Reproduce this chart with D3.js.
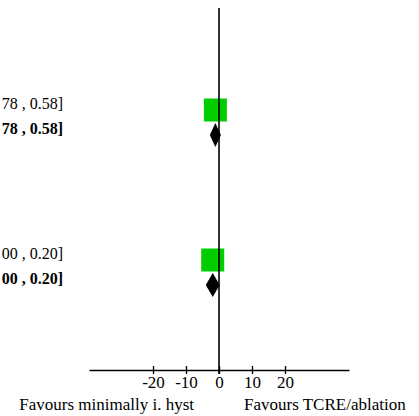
<!DOCTYPE html>
<html>
<head>
<meta charset="utf-8">
<script src="https://cdn.jsdelivr.net/npm/d3@7"></script>
<style>
  body { margin: 0; background: #fff; }
  text { font-family: "Liberation Serif", "Times New Roman", serif; }
</style>
</head>
<body>
<div id="forest"></div>
<script>
// data (only the visible right part of the CI column fits in the picture)
var ciText   = ["78 , 0.58]", "78 , 0.58]", "00 , 0.20]", "00 , 0.20]"];
var rowType  = ["study", "total", "study", "total"];
var rowIndex = [0, 1, 6, 7];
var est      = [-1.10, -1.10, -1.90, -1.90];
var lower    = [-2.78, -2.78, -4.00, -4.00];
var upper    = [0.58, 0.58, 0.20, 0.20];
var weight   = [100, 100, 100, 100];
var ticks    = [-20, -10, 0, 10, 20];
var leftLabel  = "Favours minimally i. hyst";
var rightLabel = "Favours TCRE/ablation";

function forest(){
	var width = 419, height = 416;
	var axisY = 370, lineTop = 8;

	var svg = d3.select("#forest")
		.append("svg")
		.attr("width", width)
		.attr("height", height);

	var rows = ciText.map(function(t, i){
		return {text: t, type: rowType[i], row: rowIndex[i], est: est[i], lo: lower[i], hi: upper[i], w: weight[i]};
	});

	// coordinates
	var x = d3.scaleLinear().domain([-39.4, 39.4]).range([89, 349]);
	var y = d3.scaleLinear().domain([0, 1]).range([110, 135]);
	var size = d3.scaleSqrt().domain([0, 100]).range([0, 23]);

	// x axis
	var axis = svg.append("g")
		.attr("transform", "translate(0," + axisY + ")")
		.call(d3.axisBottom(x).tickValues(ticks)
			.tickFormat(function(d){ return String(d); })
			.tickSizeOuter(0).tickSizeInner(4).tickPadding(0));
	axis.select(".domain").attr("stroke", "#000").attr("stroke-width", 1.3);
	axis.selectAll(".tick line")
		.attr("y1", -4)
		.attr("y2", 4)
		.attr("stroke-width", 1.3);
	axis.selectAll(".tick text")
		.attr("y", 18)
		.attr("dy", 0)
		.attr("font-size", 17)
		.attr("font-family", "Liberation Serif")
		.attr("fill", "#000");

	// favours labels
	svg.append("text")
		.attr("x", x(0) - 25)
		.attr("y", 410)
		.attr("text-anchor", "end")
		.attr("font-size", 17)
		.text(leftLabel);
	svg.append("text")
		.attr("x", x(0) + 25)
		.attr("y", 410)
		.attr("text-anchor", "start")
		.attr("font-size", 17)
		.text(rightLabel);

	// squares for studies
	svg.selectAll("squares")
		.data(rows.filter(function(d){ return d.type == "study"; }))
		.enter()
		.append("rect")
		.attr("x", function(d){ return x(d.est) - size(d.w)/2; })
		.attr("y", function(d){ return y(d.row) - size(d.w)/2; })
		.attr("width", function(d){ return size(d.w); })
		.attr("height", function(d){ return size(d.w); })
		.style("fill", "#00cc00");

	// diamonds for totals
	svg.selectAll("diamonds")
		.data(rows.filter(function(d){ return d.type == "total"; }))
		.enter()
		.append("path")
		.attr("d", function(d){
			var c = y(d.row);
			return "M" + x(d.lo) + "," + c + "L" + x(d.est) + "," + (c - 12) +
				"L" + x(d.hi) + "," + c + "L" + x(d.est) + "," + (c + 12) + "Z";
		})
		.style("fill", "#000");

	// line of no effect
	svg.append("line")
		.attr("x1", x(0)).attr("x2", x(0))
		.attr("y1", lineTop).attr("y2", axisY + 4)
		.attr("stroke", "#000")
		.attr("stroke-width", 1.6);

	// confidence interval text
	svg.selectAll("ciText")
		.data(rows)
		.enter()
		.append("text")
		.attr("x", 63)
		.attr("y", function(d){ return y(d.row) - 1; })
		.attr("text-anchor", "end")
		.attr("font-size", 16)
		.attr("font-weight", function(d){ return d.type == "total" ? "bold" : "normal"; })
		.text(function(d){ return d.text; });
}

forest();
</script>
</body>
</html>
